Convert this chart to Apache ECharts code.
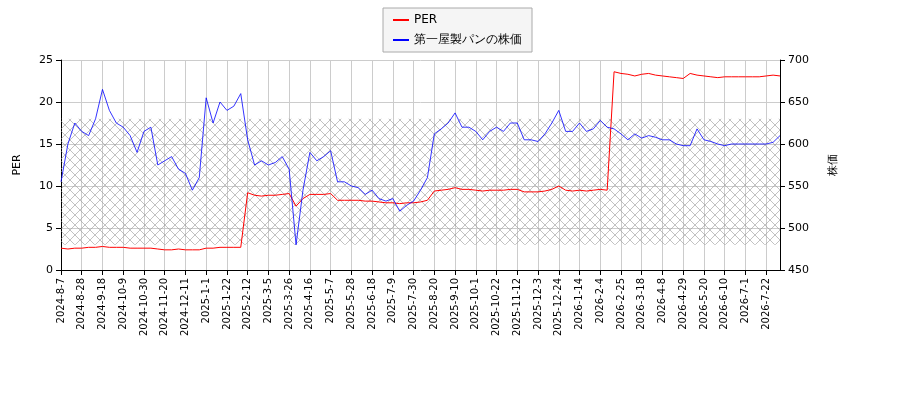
<!DOCTYPE html>
<html><head><meta charset="utf-8">
<script src="https://cdn.jsdelivr.net/npm/echarts@6/dist/echarts.min.js"></script>
<style>html,body{margin:0;padding:0;background:#fff}#c{width:900px;height:400px}</style>
</head><body><div id="c"></div>
<script>
const startDate = '2024-08-07';
const weeks = 105;
const perValues = [2.6,2.5,2.6,2.6,2.7,2.7,2.8,2.7,2.7,2.7,2.6,2.6,2.6,2.6,2.5,2.4,2.4,2.5,2.4,2.4,2.4,2.6,2.6,2.7,2.7,2.7,2.7,
  9.2,8.9,8.8,8.9,8.9,9.0,9.1,7.6,8.5,9.0,9.0,9.0,9.1,8.3,8.3,8.3,8.3,8.2,8.2,8.1,8.0,8.0,7.9,8.0,8.0,8.1,8.3,
  9.4,9.5,9.6,9.8,9.6,9.6,9.5,9.4,9.5,9.5,9.5,9.6,9.6,9.3,9.3,9.3,9.4,9.6,10.0,9.5,9.4,9.5,9.4,9.5,9.6,9.5,
  23.6,23.4,23.3,23.1,23.3,23.4,23.2,23.1,23.0,22.9,22.8,23.4,23.2,23.1,23.0,22.9,23.0,23.0,23.0,23.0,23.0,23.0,23.1,23.2,23.1];
const priceValues = [555,600,625,615,610,630,665,640,625,620,610,590,615,620,575,580,585,570,565,545,560,655,625,650,640,645,660,
  605,575,580,575,578,585,570,480,545,590,580,585,592,555,555,550,548,540,545,535,532,535,520,527,532,545,560,
  612,618,625,637,620,620,615,605,615,620,615,625,625,605,605,603,612,625,640,615,615,625,615,618,628,620,
  618,612,605,612,607,610,608,605,605,600,598,598,618,605,603,600,598,600,600,600,600,600,600,602,610];
const perTicks = [0,5,10,15,20,25];
const priceTicks = [450,500,550,600,650,700];

const categories = [];
const d0 = new Date(startDate + 'T00:00:00Z');
for (let i = 0; i < weeks; i++) {
  const d = new Date(d0.getTime() + i * 7 * 86400000);
  categories.push(d.getUTCFullYear() + '-' + (d.getUTCMonth() + 1) + '-' + d.getUTCDate());
}
// hatch pattern
const cv = document.createElement('canvas'); cv.width = 10; cv.height = 10;
const cx = cv.getContext('2d'); cx.strokeStyle = '#999'; cx.lineWidth = 0.6;
cx.beginPath(); cx.moveTo(0,0); cx.lineTo(10,10); cx.moveTo(10,0); cx.lineTo(0,10); cx.stroke();

const ch = echarts.init(document.getElementById('c'));
const font = 'DejaVu Sans';
ch.setOption({
  animation: false,
  textStyle: {fontFamily: font},
  legend: {
    orient: 'vertical', top: 8, left: 383, itemWidth: 16, itemHeight: 2, itemGap: 8,
    borderColor: '#aaa', borderWidth: 1, backgroundColor: '#f5f5f5', padding: [6, 10],
    textStyle: {fontSize: 12, color: '#000'},
    data: [{name: 'PER', icon: 'rect'}, {name: '第一屋製パンの株価', icon: 'rect'}]
  },
  grid: {left: 61, right: 120, top: 60, bottom: 130},
  xAxis: {
    type: 'category', data: categories, boundaryGap: false,
    axisLine: {lineStyle: {color: '#000'}},
    axisTick: {interval: 2, lineStyle: {color: '#000'}},
    axisLabel: {interval: 2, rotate: 90, color: '#000', fontSize: 10},
    splitLine: {show: true, interval: 2, lineStyle: {color: '#ccc'}}
  },
  yAxis: [
    {type: 'value', min: 0, max: 25, interval: 5, name: 'PER', nameLocation: 'middle', nameGap: 38, nameRotate: 90,
     nameTextStyle: {color: '#000', fontSize: 11},
     axisLine: {show: true, lineStyle: {color: '#000'}}, axisTick: {show: true},
     axisLabel: {color: '#000', fontSize: 11}, splitLine: {lineStyle: {color: '#ccc'}}},
    {type: 'value', min: 450, max: 700, interval: 50, name: '株価', nameLocation: 'middle', nameGap: 48, nameRotate: 90,
     nameTextStyle: {color: '#000', fontSize: 11},
     axisLine: {show: true, lineStyle: {color: '#000'}}, axisTick: {show: true},
     axisLabel: {color: '#000', fontSize: 11}, splitLine: {show: false}}
  ],
  series: [
    {name: 'PER', type: 'line', data: perValues, yAxisIndex: 0, symbol: 'none', color: '#ff0000',
     lineStyle: {width: 1},
     markArea: {silent: true, itemStyle: {color: {image: cv, repeat: 'repeat'}, opacity: 1},
       data: [[{yAxis: 3}, {yAxis: 18}]]}},
    {name: '第一屋製パンの株価', type: 'line', data: priceValues, yAxisIndex: 1, symbol: 'none', color: '#0000ff',
     lineStyle: {width: 0.8}}
  ]
});
</script></body></html>
